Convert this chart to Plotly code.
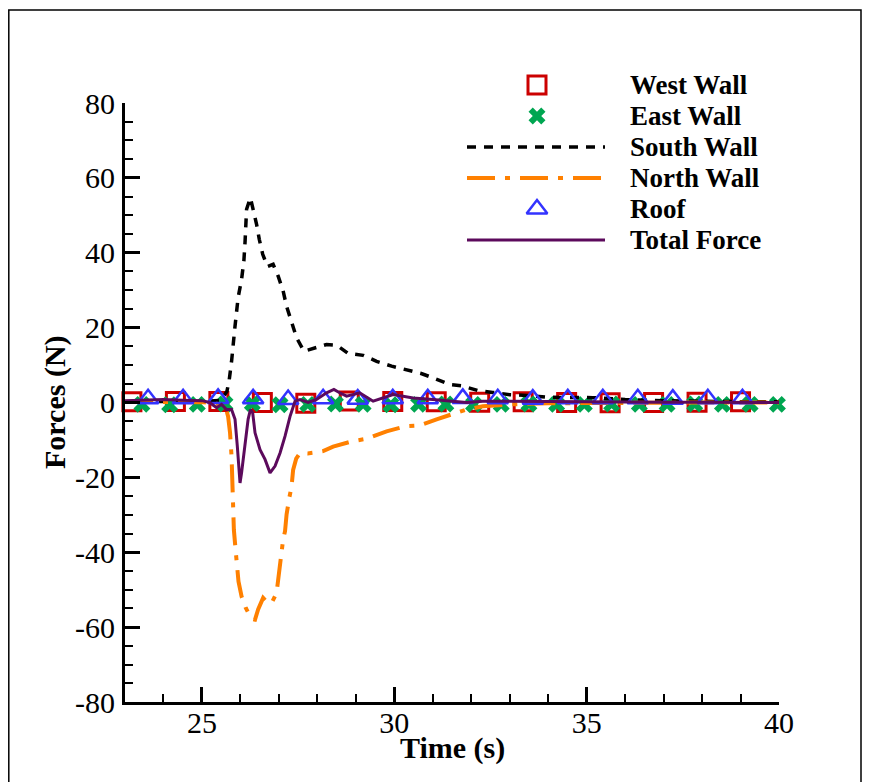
import plotly.graph_objects as go

# ---------------- data ----------------
west_t = [23.18, 24.31, 25.44, 26.57, 27.70, 28.83, 29.96, 31.09, 32.22, 33.35, 34.48, 35.61, 36.74, 37.87, 39.00]
west_f = [0.2, 0.3, 0.3, 0.0, -0.2, 0.4, 0.3, 0.2, 0.1, 0.2, 0.0, -0.1, 0.0, 0.1, 0.2]

east_t = [23.44, 24.16, 24.88, 25.60, 26.31, 27.03, 27.75, 28.47, 29.19, 29.91, 30.63, 31.34,
          32.06, 32.78, 33.50, 34.22, 34.94, 35.65, 36.37, 37.09, 37.81, 38.53, 39.25, 39.96]
east_f = [-0.5, -0.6, -0.5, -0.4, -0.3, -0.6, -0.5, -0.4, -0.5, -0.6, -0.5, -0.4,
          -0.5, -0.5, -0.4, -0.5, -0.5, -0.4, -0.5, -0.5, -0.4, -0.5, -0.5, -0.5]

roof_t = [23.60, 24.51, 25.42, 26.33, 27.24, 28.15, 29.05, 29.96, 30.87, 31.78, 32.69, 33.60,
          34.51, 35.42, 36.33, 37.24, 38.15, 39.05]
roof_f = [1.0, 1.0, 1.1, 1.0, 0.8, 1.0, 0.9, 1.0, 1.0, 1.1, 1.0, 0.9, 1.0, 1.0, 1.0, 0.9, 1.0, 1.0]

south_t = [23.0, 24.0, 25.0, 25.5, 25.65, 25.71, 25.77, 25.86, 25.94, 26.03, 26.09, 26.12, 26.16, 26.26,
           26.35, 26.42, 26.49, 26.58, 26.70, 26.85, 26.98, 27.11, 27.20, 27.33, 27.46, 27.65, 27.98,
           28.24, 28.50, 28.80, 29.19, 29.54, 29.93, 30.32, 30.70, 31.00, 31.44, 31.78, 32.17, 32.56,
           33.00, 33.44, 33.96, 35.16, 36.00, 37.0, 38.0, 39.0, 40.0]
south_f = [0.2, 0.3, 0.3, 0.6, 3.0, 6.1, 11.0, 20.4, 28.0, 32.9, 37.8, 42.8, 51.6, 54.7,
           51.2, 47.6, 43.6, 39.6, 36.3, 36.9, 33.8, 29.8, 25.7, 21.3, 17.3, 13.7, 14.6,
           15.5, 15.3, 13.1, 12.6, 11.0, 9.7, 8.6, 7.75, 6.6, 4.8, 4.4, 3.2, 2.7,
           2.1, 1.9, 1.4, 1.3, 0.8, 0.5, 0.3, 0.2, 0.2]

north_t = [23.0, 24.0, 25.0, 25.5, 25.62, 25.68, 25.73, 25.77, 25.79, 25.81, 25.83, 25.88, 25.92, 25.95,
           26.03, 26.14, 26.29, 26.38, 26.46, 26.59, 26.70, 26.81, 26.94, 26.98, 27.03, 27.07, 27.11,
           27.16, 27.20, 27.27, 27.33, 27.37, 27.45, 27.55, 27.75, 27.98, 28.15, 28.41, 28.93, 29.28,
           29.80, 30.32, 30.66, 31.10, 31.53, 31.87, 32.30, 33.0, 34.0, 35.0, 36.0, 38.0, 40.0]
north_f = [0.2, 0.2, 0.1, -0.5, -1.5, -3.7, -8.0, -14.4, -20.0, -27.7, -34.0, -40.0, -43.8, -47.8,
           -51.8, -54.9, -57.8, -58.0, -55.3, -52.2, -53.4, -53.6, -50.9, -47.3, -44.2, -40.2, -36.6,
           -34.4, -29.9, -25.5, -22.4, -18.0, -15.0, -13.5, -13.6, -13.3, -13.0, -11.8, -10.3, -9.7,
           -7.7, -6.3, -6.1, -4.5, -3.2, -1.9, -1.0, -0.5, -0.2, -0.1, 0.0, 0.0, 0.0]

total_t = [23.0, 23.5, 24.0, 24.5, 25.0, 25.2, 25.38, 25.51, 25.64, 25.77, 25.86, 25.92, 25.96, 25.99,
           26.03, 26.12, 26.20, 26.26, 26.32, 26.38, 26.51, 26.64, 26.77, 26.90, 27.03, 27.16, 27.29,
           27.42, 27.55, 27.76, 27.98, 28.24, 28.43, 28.58, 28.76, 29.10, 29.45, 29.97, 30.49, 31.00,
           31.53, 31.88, 32.30, 33.0, 34.0, 35.0, 36.0, 37.0, 38.0, 39.0, 40.0]
total_f = [0.5, 0.6, 0.8, 0.6, 0.5, 0.0, -1.4, -0.5, -1.9, -1.9, -4.5, -11.7, -18.8, -21.5,
           -18.8, -11.7, -4.5, -1.9, -2.8, -8.1, -12.6, -15.2, -18.8, -17.0, -13.5, -9.0, -3.7,
           0.35, 0.8, 0.0, 0.8, 2.6, 3.5, 2.6, 1.7, 2.6, 0.35, 2.1, 1.2, 0.8,
           0.35, 0.0, 0.35, 0.4, 0.3, 0.2, 0.1, 0.1, 0.1, 0.0, 0.0]

names = ["West Wall", "East Wall", "South Wall", "North Wall", "Roof", "Total Force"]
x_ticks = [25, 30, 35, 40]
y_ticks = [-80, -60, -40, -20, 0, 20, 40, 60, 80]

# ---------------- styles ----------------
RED, GREEN, BLUE = "#cc0000", "#00a651", "#3333ff"
ORANGE, PURPLE, BLACK = "#ff8000", "#5c0a5c", "#000000"
FONT = "Liberation Serif"

sq = dict(symbol="square-open", size=18, color=RED, line=dict(color=RED, width=3))
xm = dict(symbol="x", size=15, color=GREEN, line=dict(width=0))
tri = dict(symbol="triangle-up-open", size=18, color=BLUE, line=dict(color=BLUE, width=2.5))
south_line = dict(color=BLACK, width=3.5, dash="9px,8px")
north_line = dict(color=ORANGE, width=4, dash="28px,10px,5px,10px")
total_line = dict(color=PURPLE, width=3)

fig = go.Figure()
fig.add_trace(go.Scatter(x=west_t, y=west_f, mode="markers", marker=sq, name=names[0], cliponaxis=False))
fig.add_trace(go.Scatter(x=east_t, y=east_f, mode="markers", marker=xm, name=names[1], cliponaxis=False))
fig.add_trace(go.Scatter(x=south_t, y=south_f, mode="lines", line=south_line, name=names[2]))
fig.add_trace(go.Scatter(x=north_t, y=north_f, mode="lines", line=north_line, name=names[3]))
fig.add_trace(go.Scatter(x=roof_t, y=roof_f, mode="markers", marker=tri, name=names[4], cliponaxis=False))
fig.add_trace(go.Scatter(x=total_t, y=total_f, mode="lines", line=total_line, name=names[5]))

# ---------------- geometry (figure pixels; page adds 8px body margin) ----------------
W, H = 864, 774
L, R, T, B = 117, 771, 95, 694


def px(x):
    return (x - L) / (R - L)


def py(y):
    return (B - y) / (B - T)


# custom legend on a pixel-unit overlay axis
rows = [77, 108, 139, 170, 201, 232]
mx, lx0, lx1, tx = 529, 459, 597, 621
fig.add_trace(go.Scatter(x=[mx], y=[rows[1]], xaxis="x2", yaxis="y2", mode="markers", marker=xm,
                         cliponaxis=False, showlegend=False, hoverinfo="skip"))
fig.add_trace(go.Scatter(x=[lx0, lx1], y=[rows[2], rows[2]], xaxis="x2", yaxis="y2", mode="lines",
                         line=south_line, showlegend=False, hoverinfo="skip"))
fig.add_trace(go.Scatter(x=[lx0, lx1], y=[rows[3], rows[3]], xaxis="x2", yaxis="y2", mode="lines",
                         line=north_line, showlegend=False, hoverinfo="skip"))
fig.add_trace(go.Scatter(x=[mx], y=[rows[4]], xaxis="x2", yaxis="y2", mode="markers", marker=tri,
                         cliponaxis=False, showlegend=False, hoverinfo="skip"))
fig.add_trace(go.Scatter(x=[lx0, lx1], y=[rows[5], rows[5]], xaxis="x2", yaxis="y2", mode="lines",
                         line=total_line, showlegend=False, hoverinfo="skip"))

annotations = []
for nm, ry in zip(names, rows):
    annotations.append(dict(x=px(tx), y=py(ry), xref="paper", yref="paper", text=f"<b>{nm}</b>",
                            showarrow=False, xanchor="left", yanchor="middle", borderpad=0,
                            font=dict(family=FONT, size=27, color="black")))
annotations.append(dict(x=0.5, y=py(740), xref="paper", yref="paper", text="<b>Time (s)</b>",
                        showarrow=False, xanchor="center", yanchor="middle",
                        font=dict(family=FONT, size=30, color="black")))
annotations.append(dict(x=px(47), y=py(394), xref="paper", yref="paper",
                        text="<b>Forces (N)</b>", textangle=-90, showarrow=False,
                        xanchor="center", yanchor="middle",
                        font=dict(family=FONT, size=30, color="black")))

half = 9
shapes = [
    dict(type="rect", xref="paper", yref="paper",
         x0=px(0.8), x1=px(853), y0=py(800), y1=py(2),
         line=dict(color="black", width=1.5), fillcolor="rgba(0,0,0,0)", layer="below"),
    # West Wall legend symbol
    dict(type="rect", xref="paper", yref="paper",
         x0=px(mx - half), x1=px(mx + half), y0=py(rows[0] + half), y1=py(rows[0] - half),
         line=dict(color=RED, width=3), fillcolor="rgba(0,0,0,0)", layer="above"),
]

axis_common = dict(showgrid=False, zeroline=False, showline=True, linecolor="black", linewidth=3,
                   ticks="inside", ticklen=15, tickwidth=3, tickcolor="black",
                   tickfont=dict(family=FONT, size=30, color="black"), mirror=False)

fig.update_layout(
    width=W, height=H,
    margin=dict(l=L, r=W - R, t=T, b=H - B, pad=0),
    paper_bgcolor="white", plot_bgcolor="white",
    showlegend=False,
    xaxis=dict(range=[23, 40], tickvals=x_ticks, ticktext=[str(v) for v in x_ticks],
               ticklabelstandoff=-8,
               minor=dict(ticks="inside", ticklen=8, tickwidth=1.5, tickcolor="black", dtick=1, tick0=0),
               **axis_common),
    yaxis=dict(range=[-80, 80], tickvals=y_ticks, ticktext=[str(v) for v in y_ticks],
               ticklabelstandoff=1,
               minor=dict(ticks="inside", ticklen=8, tickwidth=1.5, tickcolor="black", dtick=5, tick0=0),
               **axis_common),
    xaxis2=dict(overlaying="x", range=[L, R], visible=False, fixedrange=True),
    yaxis2=dict(overlaying="y", range=[B, T], visible=False, fixedrange=True),
    annotations=annotations,
    shapes=shapes,
)

fig.write_html("out.html")
